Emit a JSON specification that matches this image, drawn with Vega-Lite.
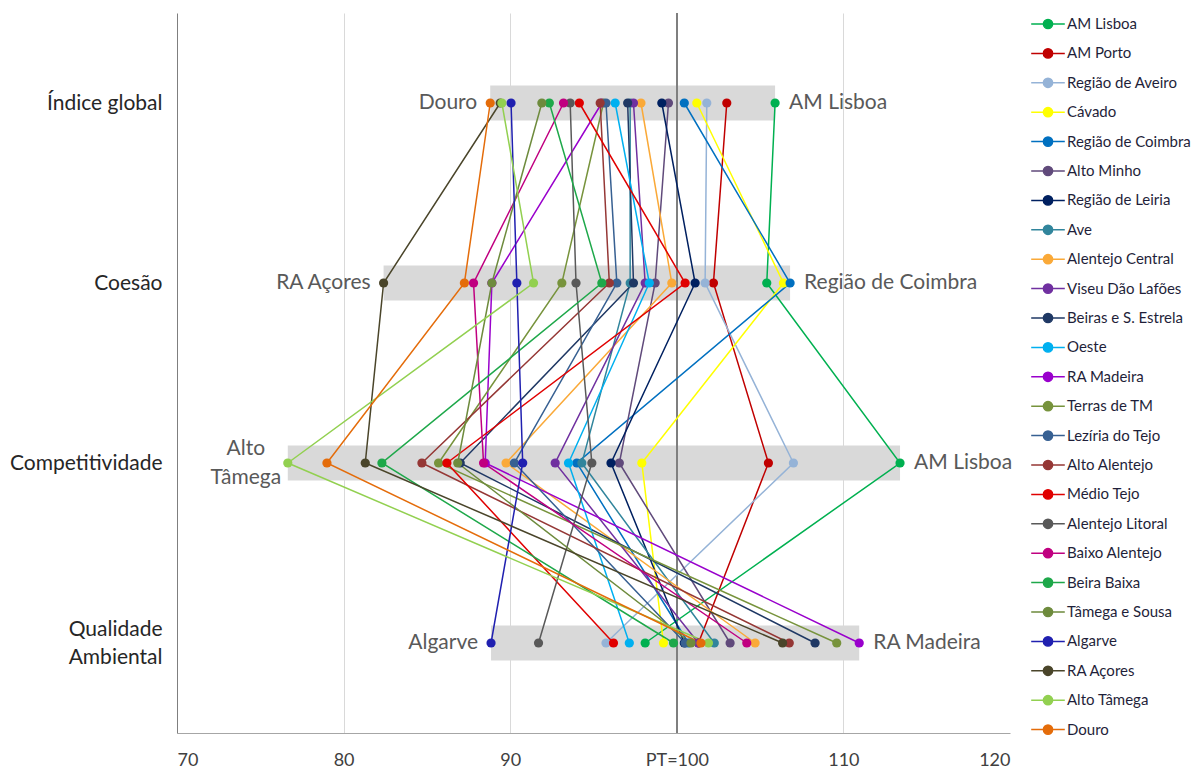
{
  "$schema": "https://vega.github.io/schema/vega-lite/v6.json",
  "width": 833,
  "height": 720,
  "autosize": {"type": "none"},
  "padding": {"left": 177, "top": 13, "right": 190, "bottom": 41},
  "background": "white",
  "config": {
    "font": "Lato",
    "view": {"stroke": null}
  },
  "datasets": {
    "d": [
      {"r": "AM Lisboa", "cat": "Índice global", "ord": 1, "v": 105.9},
      {"r": "AM Lisboa", "cat": "Coesão", "ord": 2, "v": 105.4},
      {"r": "AM Lisboa", "cat": "Competitividade", "ord": 3, "v": 113.4},
      {"r": "AM Lisboa", "cat": "Qualidade Ambiental", "ord": 4, "v": 98.1},
      {"r": "AM Porto", "cat": "Índice global", "ord": 1, "v": 103.0},
      {"r": "AM Porto", "cat": "Coesão", "ord": 2, "v": 102.2},
      {"r": "AM Porto", "cat": "Competitividade", "ord": 3, "v": 105.5},
      {"r": "AM Porto", "cat": "Qualidade Ambiental", "ord": 4, "v": 101.3},
      {"r": "Região de Aveiro", "cat": "Índice global", "ord": 1, "v": 101.8},
      {"r": "Região de Aveiro", "cat": "Coesão", "ord": 2, "v": 101.7},
      {"r": "Região de Aveiro", "cat": "Competitividade", "ord": 3, "v": 107.0},
      {"r": "Região de Aveiro", "cat": "Qualidade Ambiental", "ord": 4, "v": 95.75},
      {"r": "Cávado", "cat": "Índice global", "ord": 1, "v": 101.2},
      {"r": "Cávado", "cat": "Coesão", "ord": 2, "v": 106.4},
      {"r": "Cávado", "cat": "Competitividade", "ord": 3, "v": 97.9},
      {"r": "Cávado", "cat": "Qualidade Ambiental", "ord": 4, "v": 99.2},
      {"r": "Região de Coimbra", "cat": "Índice global", "ord": 1, "v": 100.45},
      {"r": "Região de Coimbra", "cat": "Coesão", "ord": 2, "v": 106.8},
      {"r": "Região de Coimbra", "cat": "Competitividade", "ord": 3, "v": 94.0},
      {"r": "Região de Coimbra", "cat": "Qualidade Ambiental", "ord": 4, "v": 100.7},
      {"r": "Alto Minho", "cat": "Índice global", "ord": 1, "v": 99.5},
      {"r": "Alto Minho", "cat": "Coesão", "ord": 2, "v": 98.7},
      {"r": "Alto Minho", "cat": "Competitividade", "ord": 3, "v": 96.55},
      {"r": "Alto Minho", "cat": "Qualidade Ambiental", "ord": 4, "v": 103.2},
      {"r": "Região de Leiria", "cat": "Índice global", "ord": 1, "v": 99.1},
      {"r": "Região de Leiria", "cat": "Coesão", "ord": 2, "v": 101.1},
      {"r": "Região de Leiria", "cat": "Competitividade", "ord": 3, "v": 96.05},
      {"r": "Região de Leiria", "cat": "Qualidade Ambiental", "ord": 4, "v": 100.45},
      {"r": "Ave", "cat": "Índice global", "ord": 1, "v": 97.2},
      {"r": "Ave", "cat": "Coesão", "ord": 2, "v": 97.2},
      {"r": "Ave", "cat": "Competitividade", "ord": 3, "v": 94.3},
      {"r": "Ave", "cat": "Qualidade Ambiental", "ord": 4, "v": 102.25},
      {"r": "Alentejo Central", "cat": "Índice global", "ord": 1, "v": 97.85},
      {"r": "Alentejo Central", "cat": "Coesão", "ord": 2, "v": 99.7},
      {"r": "Alentejo Central", "cat": "Competitividade", "ord": 3, "v": 89.75},
      {"r": "Alentejo Central", "cat": "Qualidade Ambiental", "ord": 4, "v": 104.7},
      {"r": "Viseu Dão Lafões", "cat": "Índice global", "ord": 1, "v": 97.4},
      {"r": "Viseu Dão Lafões", "cat": "Coesão", "ord": 2, "v": 98.1},
      {"r": "Viseu Dão Lafões", "cat": "Competitividade", "ord": 3, "v": 92.7},
      {"r": "Viseu Dão Lafões", "cat": "Qualidade Ambiental", "ord": 4, "v": 101.3},
      {"r": "Beiras e S. Estrela", "cat": "Índice global", "ord": 1, "v": 97.05},
      {"r": "Beiras e S. Estrela", "cat": "Coesão", "ord": 2, "v": 97.4},
      {"r": "Beiras e S. Estrela", "cat": "Competitividade", "ord": 3, "v": 87.0},
      {"r": "Beiras e S. Estrela", "cat": "Qualidade Ambiental", "ord": 4, "v": 108.3},
      {"r": "Oeste", "cat": "Índice global", "ord": 1, "v": 96.3},
      {"r": "Oeste", "cat": "Coesão", "ord": 2, "v": 98.35},
      {"r": "Oeste", "cat": "Competitividade", "ord": 3, "v": 93.5},
      {"r": "Oeste", "cat": "Qualidade Ambiental", "ord": 4, "v": 97.15},
      {"r": "RA Madeira", "cat": "Índice global", "ord": 1, "v": 95.5},
      {"r": "RA Madeira", "cat": "Coesão", "ord": 2, "v": 88.9},
      {"r": "RA Madeira", "cat": "Competitividade", "ord": 3, "v": 88.5},
      {"r": "RA Madeira", "cat": "Qualidade Ambiental", "ord": 4, "v": 110.95},
      {"r": "Terras de TM", "cat": "Índice global", "ord": 1, "v": 95.6},
      {"r": "Terras de TM", "cat": "Coesão", "ord": 2, "v": 93.1},
      {"r": "Terras de TM", "cat": "Competitividade", "ord": 3, "v": 85.7},
      {"r": "Terras de TM", "cat": "Qualidade Ambiental", "ord": 4, "v": 109.6},
      {"r": "Lezíria do Tejo", "cat": "Índice global", "ord": 1, "v": 95.75},
      {"r": "Lezíria do Tejo", "cat": "Coesão", "ord": 2, "v": 96.4},
      {"r": "Lezíria do Tejo", "cat": "Competitividade", "ord": 3, "v": 90.25},
      {"r": "Lezíria do Tejo", "cat": "Qualidade Ambiental", "ord": 4, "v": 100.5},
      {"r": "Alto Alentejo", "cat": "Índice global", "ord": 1, "v": 95.4},
      {"r": "Alto Alentejo", "cat": "Coesão", "ord": 2, "v": 95.95},
      {"r": "Alto Alentejo", "cat": "Competitividade", "ord": 3, "v": 84.7},
      {"r": "Alto Alentejo", "cat": "Qualidade Ambiental", "ord": 4, "v": 106.75},
      {"r": "Médio Tejo", "cat": "Índice global", "ord": 1, "v": 94.15},
      {"r": "Médio Tejo", "cat": "Coesão", "ord": 2, "v": 100.5},
      {"r": "Médio Tejo", "cat": "Competitividade", "ord": 3, "v": 86.2},
      {"r": "Médio Tejo", "cat": "Qualidade Ambiental", "ord": 4, "v": 96.2},
      {"r": "Alentejo Litoral", "cat": "Índice global", "ord": 1, "v": 93.6},
      {"r": "Alentejo Litoral", "cat": "Coesão", "ord": 2, "v": 93.95},
      {"r": "Alentejo Litoral", "cat": "Competitividade", "ord": 3, "v": 94.9},
      {"r": "Alentejo Litoral", "cat": "Qualidade Ambiental", "ord": 4, "v": 91.7},
      {"r": "Baixo Alentejo", "cat": "Índice global", "ord": 1, "v": 93.2},
      {"r": "Baixo Alentejo", "cat": "Coesão", "ord": 2, "v": 87.8},
      {"r": "Baixo Alentejo", "cat": "Competitividade", "ord": 3, "v": 88.4},
      {"r": "Baixo Alentejo", "cat": "Qualidade Ambiental", "ord": 4, "v": 104.2},
      {"r": "Beira Baixa", "cat": "Índice global", "ord": 1, "v": 92.35},
      {"r": "Beira Baixa", "cat": "Coesão", "ord": 2, "v": 95.5},
      {"r": "Beira Baixa", "cat": "Competitividade", "ord": 3, "v": 82.3},
      {"r": "Beira Baixa", "cat": "Qualidade Ambiental", "ord": 4, "v": 99.8},
      {"r": "Tâmega e Sousa", "cat": "Índice global", "ord": 1, "v": 91.9},
      {"r": "Tâmega e Sousa", "cat": "Coesão", "ord": 2, "v": 88.9},
      {"r": "Tâmega e Sousa", "cat": "Competitividade", "ord": 3, "v": 86.85},
      {"r": "Tâmega e Sousa", "cat": "Qualidade Ambiental", "ord": 4, "v": 100.85},
      {"r": "Algarve", "cat": "Índice global", "ord": 1, "v": 90.05},
      {"r": "Algarve", "cat": "Coesão", "ord": 2, "v": 90.4},
      {"r": "Algarve", "cat": "Competitividade", "ord": 3, "v": 90.75},
      {"r": "Algarve", "cat": "Qualidade Ambiental", "ord": 4, "v": 88.85},
      {"r": "RA Açores", "cat": "Índice global", "ord": 1, "v": 89.4},
      {"r": "RA Açores", "cat": "Coesão", "ord": 2, "v": 82.4},
      {"r": "RA Açores", "cat": "Competitividade", "ord": 3, "v": 81.3},
      {"r": "RA Açores", "cat": "Qualidade Ambiental", "ord": 4, "v": 106.35},
      {"r": "Alto Tâmega", "cat": "Índice global", "ord": 1, "v": 89.5},
      {"r": "Alto Tâmega", "cat": "Coesão", "ord": 2, "v": 91.4},
      {"r": "Alto Tâmega", "cat": "Competitividade", "ord": 3, "v": 76.65},
      {"r": "Alto Tâmega", "cat": "Qualidade Ambiental", "ord": 4, "v": 101.9},
      {"r": "Douro", "cat": "Índice global", "ord": 1, "v": 88.8},
      {"r": "Douro", "cat": "Coesão", "ord": 2, "v": 87.25},
      {"r": "Douro", "cat": "Competitividade", "ord": 3, "v": 79.0},
      {"r": "Douro", "cat": "Qualidade Ambiental", "ord": 4, "v": 101.45}
    ]
  },
  "data": {"name": "d"},
  "layer": [
    {
      "transform": [
        {"aggregate": [{"op": "min", "field": "v", "as": "mn"}, {"op": "max", "field": "v", "as": "mx"}], "groupby": ["cat"]}
      ],
      "mark": {"type": "rule", "color": "#d9d9d9", "strokeWidth": 35, "strokeCap": "butt"},
      "encoding": {
        "x": {"field": "mn", "type": "quantitative", "scale": {"domain": [70, 120], "nice": false, "zero": false},
          "axis": {
            "values": [70, 80, 90, 100, 110, 120],
            "labelExpr": "datum.value == 100 ? 'PT=100' : datum.label",
            "title": null,
            "grid": true,
            "gridColor": {"condition": {"test": "datum.value == 100 || datum.value == 120 || datum.value == 70", "value": "transparent"}, "value": "#d9d9d9"},
            "gridWidth": 1,
            "ticks": false,
            "domainColor": "#a6a6a6",
            "domainWidth": 1,
            "labelFontSize": 18,
            "labelColor": "#404040",
            "labelPadding": 18
          }
        },
        "x2": {"field": "mx"},
        "y": {"field": "cat", "type": "nominal",
          "scale": {"type": "point", "domain": ["Índice global", "Coesão", "Competitividade", "Qualidade Ambiental"], "padding": 0.5},
          "axis": {
            "title": null,
            "ticks": false,
            "domainColor": "#7f7f7f",
            "domainWidth": 1,
            "labelFontSize": 21,
            "labelColor": "#262626",
            "labelPadding": 15,
            "labelLineHeight": 28,
            "labelOffset": {"condition": {"test": "datum.value == 'Qualidade Ambiental'", "value": -14}, "value": 0},
            "labelExpr": "datum.label == 'Qualidade Ambiental' ? ['Qualidade', 'Ambiental'] : datum.label"
          }
        }
      }
    },
    {
      "mark": {"type": "rule", "color": "#7f7f7f", "strokeWidth": 1.5},
      "encoding": {"x": {"datum": 100, "type": "quantitative"}}
    },
    {
      "mark": {"type": "line", "strokeWidth": 1.5},
      "encoding": {
        "x": {"field": "v", "type": "quantitative"},
        "y": {"field": "cat", "type": "nominal"},
        "order": {"field": "ord", "type": "quantitative"},
        "detail": {"field": "r", "type": "nominal"},
        "color": {"field": "r", "type": "nominal",
          "scale": {
            "domain": ["AM Lisboa", "AM Porto", "Região de Aveiro", "Cávado", "Região de Coimbra", "Alto Minho", "Região de Leiria", "Ave", "Alentejo Central", "Viseu Dão Lafões", "Beiras e S. Estrela", "Oeste", "RA Madeira", "Terras de TM", "Lezíria do Tejo", "Alto Alentejo", "Médio Tejo", "Alentejo Litoral", "Baixo Alentejo", "Beira Baixa", "Tâmega e Sousa", "Algarve", "RA Açores", "Alto Tâmega", "Douro"],
            "range": ["#00B050", "#C00000", "#95B3D7", "#FFFF00", "#0070C0", "#604A7B", "#002060", "#31859C", "#FAA938", "#7030A0", "#1F3864", "#00B0F0", "#9900CC", "#77933C", "#376092", "#953735", "#E00000", "#595959", "#C00080", "#1EA84A", "#6E8B3D", "#2020B0", "#4A452A", "#92D050", "#E46C0A"]
          },
          "legend": {
            "title": null,
            "orient": "none",
            "legendX": 856,
            "legendY": -4,
            "symbolType": "M-1.2,0L1.2,0M-0.33,0A0.33,0.33,0,1,1,0.33,0A0.33,0.33,0,1,1,-0.33,0Z",
            "symbolSize": 784,
            "symbolStrokeWidth": 1.5,
            "rowPadding": 6.4,
            "labelFontSize": 15,
            "labelColor": "#1f1f3a",
            "labelOffset": 4,
            "labelLimit": 200,
            "padding": 0,
            "encode": {
              "symbols": {"update": {"fill": {"scale": "color", "field": "value"}, "stroke": {"scale": "color", "field": "value"}, "strokeWidth": {"value": 1.5}, "opacity": {"value": 1}}}
            }
          }
        }
      }
    },
    {
      "mark": {"type": "circle", "size": 85, "opacity": 1},
      "encoding": {
        "x": {"field": "v", "type": "quantitative"},
        "y": {"field": "cat", "type": "nominal"},
        "color": {"field": "r", "type": "nominal",
          "legend": {
            "title": null,
            "orient": "none",
            "legendX": 856,
            "legendY": -4,
            "symbolType": "M-1.2,0L1.2,0M-0.33,0A0.33,0.33,0,1,1,0.33,0A0.33,0.33,0,1,1,-0.33,0Z",
            "symbolSize": 784,
            "symbolStrokeWidth": 1.5,
            "rowPadding": 6.4,
            "labelFontSize": 15,
            "labelColor": "#1f1f3a",
            "labelOffset": 4,
            "labelLimit": 200,
            "padding": 0,
            "encode": {
              "symbols": {"update": {"fill": {"scale": "color", "field": "value"}, "stroke": {"scale": "color", "field": "value"}, "strokeWidth": {"value": 1.5}, "opacity": {"value": 1}}}
            }
          }
        }
      }
    },
    {
      "transform": [
        {"joinaggregate": [{"op": "min", "field": "v", "as": "mn"}], "groupby": ["cat"]},
        {"filter": "datum.v == datum.mn && datum.r != 'Alto Tâmega'"}
      ],
      "mark": {"type": "text", "align": "right", "baseline": "middle", "dx": -13, "fontSize": 21, "color": "#595959"},
      "encoding": {
        "x": {"field": "v", "type": "quantitative"},
        "y": {"field": "cat", "type": "nominal"},
        "text": {"field": "r"}
      }
    },
    {
      "transform": [
        {"joinaggregate": [{"op": "min", "field": "v", "as": "mn"}], "groupby": ["cat"]},
        {"filter": "datum.v == datum.mn && datum.r == 'Alto Tâmega'"}
      ],
      "mark": {"type": "text", "align": "center", "baseline": "middle", "dx": -42, "dy": -14, "fontSize": 21, "color": "#595959", "lineBreak": " ", "lineHeight": 29},
      "encoding": {
        "x": {"field": "v", "type": "quantitative"},
        "y": {"field": "cat", "type": "nominal"},
        "text": {"field": "r"}
      }
    },
    {
      "transform": [
        {"joinaggregate": [{"op": "max", "field": "v", "as": "mx"}], "groupby": ["cat"]},
        {"filter": "datum.v == datum.mx"}
      ],
      "mark": {"type": "text", "align": "left", "baseline": "middle", "dx": 14, "fontSize": 21, "color": "#595959"},
      "encoding": {
        "x": {"field": "v", "type": "quantitative"},
        "y": {"field": "cat", "type": "nominal"},
        "text": {"field": "r"}
      }
    }
  ]
}
